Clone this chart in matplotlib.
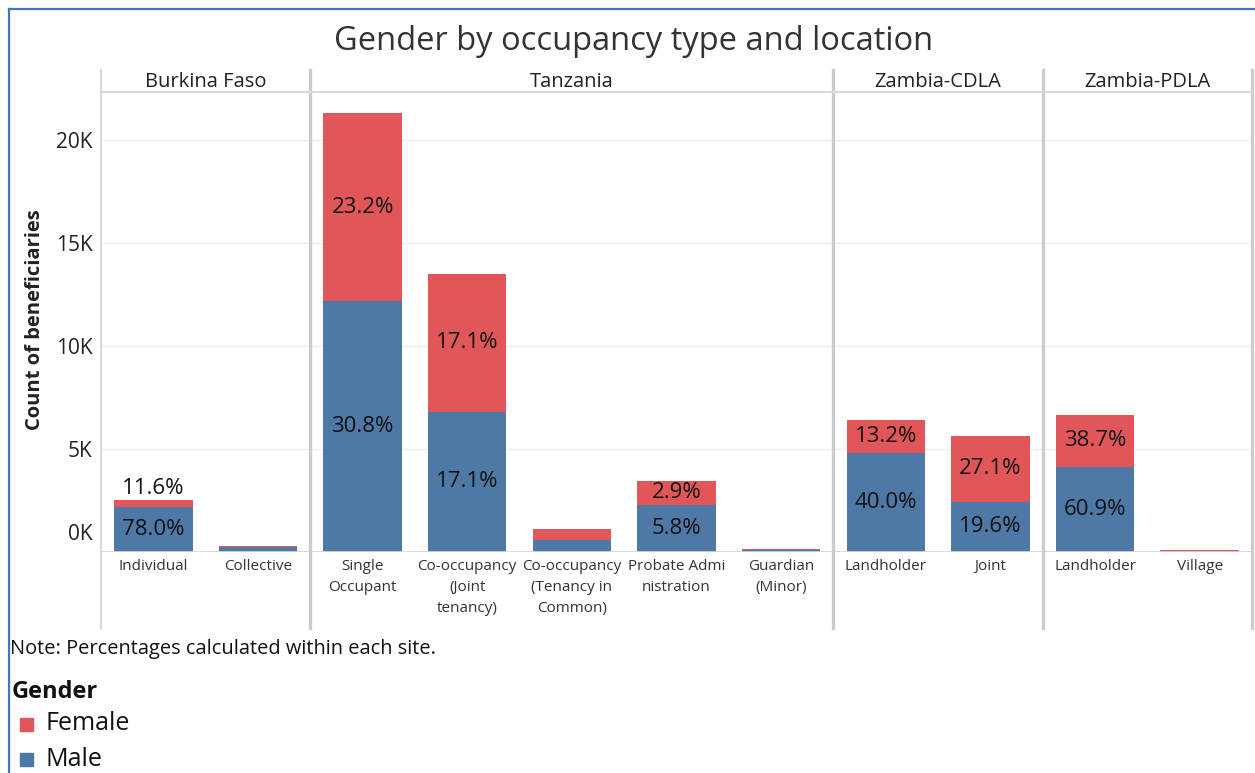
import matplotlib
matplotlib.use("Agg")
import matplotlib.pyplot as plt
from matplotlib.transforms import ScaledTranslation, blended_transform_factory
from matplotlib.lines import Line2D
from matplotlib.patches import Rectangle

# ---------------- data ----------------
sites = ["Burkina Faso", "Tanzania", "Zambia-CDLA", "Zambia-PDLA"]
site_of_category = [0, 0, 1, 1, 1, 1, 1, 2, 2, 3, 3]
categories = ["Individual", "Collective", "Single\nOccupant", "Co-occupancy\n(Joint\ntenancy)",
              "Co-occupancy\n(Tenancy in\nCommon)", "Probate Admi\nnistration", "Guardian\n(Minor)",
              "Landholder", "Joint", "Landholder", "Village"]
male = [2180, 250, 12150, 6780, 550, 2270, 60, 4790, 2410, 4100, 10]
female = [330, 50, 9150, 6720, 550, 1160, 80, 1600, 3210, 2550, 60]
male_pct = ["78.0%", None, "30.8%", "17.1%", None, "5.8%", None, "40.0%", "19.6%", "60.9%", None]
female_pct = ["11.6%", None, "23.2%", "17.1%", None, "2.9%", None, "13.2%", "27.1%", "38.7%", None]
yticks = [0, 5000, 10000, 15000, 20000]
ytick_labels = ["0K", "5K", "10K", "15K", "20K"]

MALE_C = "#4e79a7"
FEMALE_C = "#e15759"
FONT = "Open Sans"

W, H = 1255, 773
fig = plt.figure(figsize=(W / 100, H / 100), dpi=100)

def fx(px):
    return px / W

def fy(py):
    return 1 - py / H

ax_left, ax_right, ax_top, ax_bot = 101, 1252, 92, 551.7
ax = fig.add_axes([fx(ax_left), fy(ax_bot), fx(ax_right - ax_left), (ax_bot - ax_top) / H])
n = len(categories)
x = list(range(n))
ax.set_xlim(-0.5, n - 0.5)
ymax = (ax_bot - ax_top) / 20.6 * 1000
ax.set_ylim(0, ymax)

for s in ax.spines.values():
    s.set_visible(False)

# gridlines
for t in yticks[1:]:
    ax.axhline(t, color="#efefef", lw=1, zorder=0)
ax.axhline(0, color="#d4d4d4", lw=1.3, zorder=3)

ax.bar(x, male, width=0.75, color=MALE_C, zorder=2)
ax.bar(x, female, width=0.75, bottom=male, color=FEMALE_C, zorder=2)

# bar labels
PCT_FS = 16
for i in range(n):
    if male_pct[i]:
        ax.text(x[i], male[i] / 2, male_pct[i], ha="center", va="center",
                fontsize=PCT_FS, family=FONT, color="#111111", zorder=4)
    if female_pct[i]:
        seg = female[i]
        if seg < 800:
            ax.text(x[i], male[i] + female[i] + 60, female_pct[i], ha="center", va="bottom",
                    fontsize=PCT_FS, family=FONT, color="#111111", zorder=4)
        else:
            ax.text(x[i], male[i] + female[i] / 2, female_pct[i], ha="center", va="center",
                    fontsize=PCT_FS, family=FONT, color="#111111", zorder=4)

# axes ticks
ax.set_xticks(x)
ax.set_xticklabels(categories, family=FONT, fontsize=11, color="#333333", linespacing=1.55)
ax.tick_params(axis="x", length=0, pad=5)
ax.set_yticks(yticks)
ax.set_yticklabels(ytick_labels, family=FONT, fontsize=15, color="#222222")
ax.tick_params(axis="y", length=0, pad=6)
lab0 = ax.get_yticklabels()[0]
lab0.set_transform(lab0.get_transform() + ScaledTranslation(0, 14 / 72, fig.dpi_scale_trans))

# panel separators and header
seps = [-0.5, 1.5, 6.5, 8.5, n - 0.5]
h = ax_bot - ax_top
for k, sx in enumerate(seps):
    light = (k == 0)
    ax.axvline(sx, ymin=(ax_bot - 628) / h, ymax=(ax_bot - 70) / h, clip_on=False,
               color="#dadada" if light else "#cccccc", lw=1.6 if light else 2.4, zorder=5)
ax.axhline(ymax, color="#d9d9d9", lw=1.4, zorder=5, clip_on=False)

trans = blended_transform_factory(ax.transData, ax.transAxes)
for k, name in enumerate(sites):
    cx = (seps[k] + seps[k + 1]) / 2
    ax.text(cx, (ax_bot - 82) / h, name, transform=trans, ha="center", va="center",
            fontsize=14.5, family=FONT, color="#222222")

# title
fig.text(fx(634), fy(41), "Gender by occupancy type and location", ha="center", va="center",
         fontsize=23.5, family=FONT, color="#333333")

# y label
fig.text(fx(35), fy(320), "Count of beneficiaries", ha="center", va="center", rotation=90,
         fontsize=14.5, family=FONT, fontweight="bold", color="#222222")

# note and legend
fig.text(fx(10), fy(649), "Note: Percentages calculated within each site.", ha="left", va="center",
         fontsize=14.4, family=FONT, color="#111111")
fig.text(fx(12), fy(692), "Gender", ha="left", va="center", fontsize=17, family=FONT,
         fontweight="bold", color="#111111")
for label, color, py in [("Female", FEMALE_C, 724), ("Male", MALE_C, 759)]:
    fig.patches.append(Rectangle((fx(20), fy(py + 7)), fx(13), 13 / H, color=color,
                                 transform=fig.transFigure, figure=fig))
    fig.text(fx(46), fy(py), label, ha="left", va="center", fontsize=18, family=FONT,
             color="#111111")

# blue frame
fig.add_artist(Line2D([fx(9), fx(9)], [fy(9), 0], color="#4472c4", lw=1.6, transform=fig.transFigure))
fig.add_artist(Line2D([fx(9), 1], [fy(9), fy(9)], color="#4472c4", lw=1.6, transform=fig.transFigure))

fig.savefig("out.png", dpi=100)
